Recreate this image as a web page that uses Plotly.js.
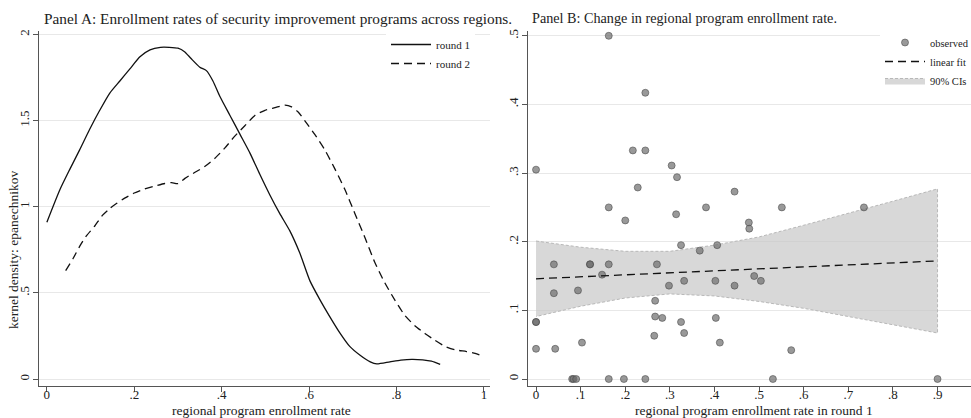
<!DOCTYPE html>
<html>
<head>
<meta charset="utf-8">
<script src="https://cdn.plot.ly/plotly-3.0.1.min.js"></script>
<style>html,body{margin:0;padding:0;background:#fff;overflow:hidden;}#chart{width:971px;height:418px;}</style>
</head>
<body>
<div id="chart"></div>
<script>
// ---------- Panel A: kernel densities ----------
const round1X = [0,0.03,0.053,0.075,0.098,0.121,0.144,0.167,0.19,0.213,0.236,0.26,0.28,0.30,0.315,0.33,0.35,0.365,0.38,0.396,0.419,0.442,0.465,0.487,0.51,0.533,0.556,0.579,0.602,0.625,0.648,0.67,0.693,0.716,0.74,0.755,0.785,0.81,0.835,0.86,0.88,0.9];
const round1Y = [0.91,1.1,1.22,1.33,1.45,1.56,1.66,1.73,1.8,1.87,1.91,1.925,1.925,1.92,1.9,1.86,1.81,1.79,1.73,1.64,1.53,1.42,1.31,1.19,1.07,0.96,0.86,0.73,0.57,0.46,0.36,0.27,0.19,0.14,0.1,0.088,0.1,0.11,0.115,0.112,0.104,0.085];
const round2X = [0.043,0.06,0.075,0.09,0.11,0.127,0.144,0.16,0.178,0.2,0.22,0.247,0.27,0.285,0.3,0.316,0.339,0.362,0.384,0.407,0.43,0.453,0.476,0.499,0.522,0.545,0.56,0.575,0.59,0.613,0.636,0.659,0.682,0.705,0.728,0.75,0.773,0.796,0.819,0.842,0.865,0.888,0.911,0.934,0.96,0.98,1.0];
const round2Y = [0.63,0.7,0.77,0.83,0.89,0.95,0.99,1.02,1.05,1.08,1.1,1.12,1.135,1.14,1.135,1.165,1.2,1.235,1.28,1.34,1.41,1.47,1.53,1.56,1.575,1.59,1.58,1.55,1.5,1.42,1.33,1.22,1.1,0.96,0.82,0.68,0.56,0.46,0.37,0.31,0.265,0.225,0.19,0.17,0.16,0.15,0.13];
const aTickVals = [0,0.2,0.4,0.6,0.8,1];
const aTickText = ["0",".2",".4",".6",".8","1"];
const aYTickVals = [0,0.5,1,1.5,2];
const aYTickText = ["0",".5","1","1.5","2"];

// ---------- Panel B: scatter + linear fit ----------
const obsX = [0,0,0,0,0.04,0.04,0.043,0.094,0.103,0.081,0.084,0.09,0.121,0.121,0.148,0.163,0.163,0.163,0.163,0.2,0.197,0.217,0.228,0.245,0.245,0.245,0.265,0.267,0.267,0.271,0.283,0.298,0.304,0.314,0.316,0.325,0.325,0.332,0.332,0.367,0.381,0.402,0.403,0.406,0.412,0.445,0.445,0.477,0.478,0.489,0.504,0.531,0.551,0.572,0.735,0.9];
const obsY = [0.305,0.083,0.083,0.044,0.167,0.125,0.044,0.129,0.053,0,0,0,0.167,0.167,0.152,0.5,0.25,0.167,0,0.231,0,0.333,0.279,0.417,0.333,0,0.063,0.114,0.091,0.167,0.089,0.136,0.311,0.24,0.294,0.195,0.083,0.143,0.067,0.187,0.25,0.143,0.089,0.195,0.053,0.273,0.136,0.228,0.219,0.15,0.143,0,0.25,0.042,0.25,0];
const fitX = [0,0.9];
const fitY = [0.146,0.172];
const ciX = [0,0.1,0.2,0.3,0.4,0.5,0.6,0.7,0.8,0.9];
const ciUpper = [0.201,0.192,0.186,0.186,0.195,0.207,0.224,0.241,0.259,0.277];
const ciLower = [0.091,0.106,0.118,0.124,0.121,0.113,0.103,0.091,0.079,0.067];
const bTickVals = [0,0.1,0.2,0.3,0.4,0.5,0.6,0.7,0.8,0.9];
const bTickText = ["0",".1",".2",".3",".4",".5",".6",".7",".8",".9"];
const bYTickVals = [0,0.1,0.2,0.3,0.4,0.5];
const bYTickText = ["0",".1",".2",".3",".4",".5"];

const FONT = "'Liberation Serif', 'Times New Roman', serif";
const W = 971, H = 418;
const px = v => v / W;
const py = v => 1 - v / H;

const traces = [
  {x: round1X, y: round1Y, type: 'scatter', mode: 'lines', name: 'round 1',
   line: {color: '#111', width: 1.3, shape: 'spline', smoothing: 0.6}, xaxis: 'x', yaxis: 'y', legend: 'legend'},
  {x: round2X, y: round2Y, type: 'scatter', mode: 'lines', name: 'round 2',
   line: {color: '#111', width: 1.3, dash: '8px,5px', shape: 'spline', smoothing: 0.6}, xaxis: 'x', yaxis: 'y', legend: 'legend'},
  {x: ciX.concat(ciX.slice().reverse()), y: ciUpper.concat(ciLower.slice().reverse()),
   type: 'scatter', mode: 'lines', fill: 'toself', fillcolor: 'rgba(200,200,200,0.7)', name: '90% CIs',
   line: {color: '#b8b8b8', width: 1, dash: '3px,2px'}, xaxis: 'x2', yaxis: 'y2', legend: 'legend2', legendrank: 3},
  {x: obsX, y: obsY, type: 'scatter', mode: 'markers', name: 'observed',
   marker: {size: 7, color: 'rgba(110,110,110,0.7)', line: {color: 'rgba(70,70,70,0.7)', width: 0.8}},
   xaxis: 'x2', yaxis: 'y2', legend: 'legend2', legendrank: 1},
  {x: fitX, y: fitY, type: 'scatter', mode: 'lines', name: 'linear fit',
   line: {color: '#111', width: 1.3, dash: '8px,5px'}, xaxis: 'x2', yaxis: 'y2', legend: 'legend2', legendrank: 2}
];

const axBase = {
  showline: true, linecolor: '#555', linewidth: 1, ticks: 'outside', ticklen: 5, tickcolor: '#555',
  tickfont: {family: FONT, size: 13, color: '#222'}, zeroline: false
};

const layout = {
  width: W, height: H, margin: {l: 0, r: 0, t: 0, b: 0, autoexpand: false},
  paper_bgcolor: '#fff', plot_bgcolor: '#fff',
  font: {family: FONT, color: '#222'},
  xaxis: Object.assign({}, axBase, {domain: [px(39), px(490)], range: [-0.018, 1.014],
    tickvals: aTickVals, ticktext: aTickText, showgrid: false, anchor: 'y', ticklabelstandoff: -9}),
  yaxis: Object.assign({}, axBase, {domain: [py(386), py(31)], range: [-0.04, 2.02],
    tickvals: aYTickVals, ticktext: aYTickText, tickangle: -90, showgrid: true, gridcolor: '#e8e8e8', anchor: 'x', ticklabelstandoff: -1}),
  xaxis2: Object.assign({}, axBase, {domain: [px(528), 1], range: [-0.018, 0.975],
    tickvals: bTickVals, ticktext: bTickText, showgrid: false, anchor: 'y2', ticklabelstandoff: -9}),
  yaxis2: Object.assign({}, axBase, {domain: [py(386), py(31)], range: [-0.0102, 0.507],
    tickvals: bYTickVals, ticktext: bYTickText, tickangle: -90, showgrid: true, gridcolor: '#e8e8e8', anchor: 'x2', ticklabelstandoff: -1}),
  legend: {x: px(386), y: py(30), xanchor: 'left', yanchor: 'top', bgcolor: '#fff', borderwidth: 0,
    font: {family: FONT, size: 11, color: '#222'}, tracegroupgap: 2, itemwidth: 40},
  legend2: {x: px(880), y: py(28), xanchor: 'left', yanchor: 'top', bgcolor: '#fff', borderwidth: 0,
    font: {family: FONT, size: 10.5, color: '#222'}, traceorder: 'normal', itemwidth: 40},
  annotations: [
    {text: 'Panel A: Enrollment rates of security improvement programs across regions.', xref: 'paper', yref: 'paper',
     x: px(42), y: py(18), xanchor: 'left', yanchor: 'middle', showarrow: false, font: {family: FONT, size: 15.3, color: '#222'}},
    {text: 'Panel B: Change in regional program enrollment rate.', xref: 'paper', yref: 'paper',
     x: px(530), y: py(18), xanchor: 'left', yanchor: 'middle', showarrow: false, font: {family: FONT, size: 14.2, color: '#222'}},
    {text: 'regional program enrollment rate', xref: 'paper', yref: 'paper',
     x: px(261), y: py(410), xanchor: 'center', yanchor: 'middle', showarrow: false, font: {family: FONT, size: 13.5, color: '#222'}},
    {text: 'regional program enrollment rate in round 1', xref: 'paper', yref: 'paper',
     x: px(754), y: py(410), xanchor: 'center', yanchor: 'middle', showarrow: false, font: {family: FONT, size: 13.5, color: '#222'}},
    {text: 'kernel density: epanechnikov', xref: 'paper', yref: 'paper', textangle: -90,
     x: px(13), y: py(250), xanchor: 'center', yanchor: 'middle', showarrow: false, font: {family: FONT, size: 13.5, color: '#222'}}
  ],
  showlegend: true
};

Plotly.newPlot('chart', traces, layout, {displayModeBar: false, staticPlot: true});
</script>
</body>
</html>
